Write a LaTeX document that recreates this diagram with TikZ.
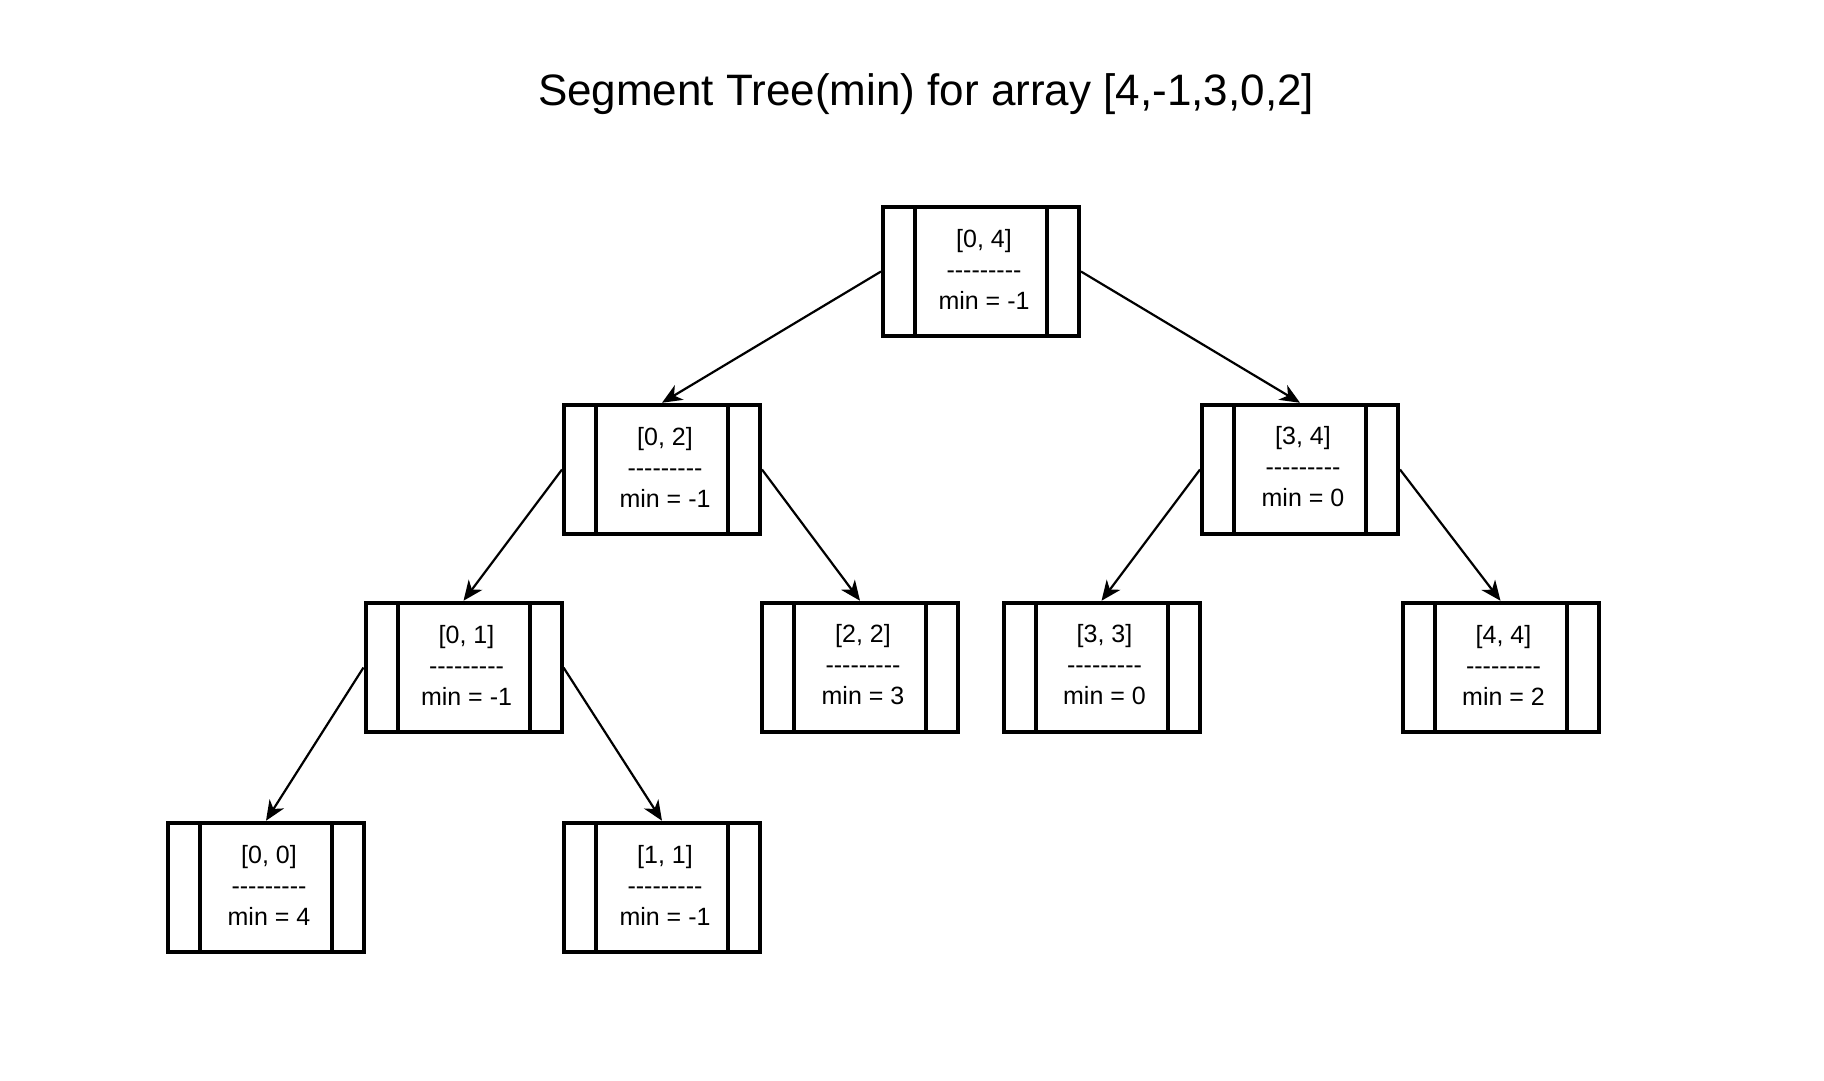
\documentclass[tikz,border=0pt]{standalone}
\usepackage{fontspec}
\setmainfont{Liberation Sans}[Ligatures=TeXOff]
\usetikzlibrary{arrows.meta}
\newcommand{\segdash}{-\kern0pt-\kern0pt-\kern0pt-\kern0pt-\kern0pt-\kern0pt-\kern0pt-\kern0pt-}
\begin{document}
\begin{tikzpicture}[x=1pt,y=-1pt,
  segbox/.style={draw=black, line width=4pt, minimum width=196pt, minimum height=129.5pt, inner sep=0pt,
    path picture={
      \draw[line width=4pt] ([xshift=32pt]path picture bounding box.north west) -- ([xshift=32pt]path picture bounding box.south west);
      \draw[line width=4pt] ([xshift=-32pt]path picture bounding box.north east) -- ([xshift=-32pt]path picture bounding box.south east);
    }},
  segtxt/.style={align=center, inner sep=0pt, font=\fontsize{25}{31}\selectfont},
  edge/.style={line width=2.2pt, -{Stealth[length=20pt, width=17pt, inset=6pt]}},
  titletxt/.style={inner sep=0pt, font=\fontsize{44}{52}\selectfont}]
\useasboundingbox[fill=white] (0,0) rectangle (1824,1080);

\node[titletxt] (title) at (926,94) {Segment Tree(min) for array [4,-1,3,0,2]};

\node[segbox] (r) at (981,271.5) {};
\node[segbox] (a) at (662,469.5) {};
\node[segbox] (b) at (1300,469.5) {};
\node[segbox] (c) at (463.5,667.5) {};
\node[segbox] (d) at (860,667.5) {};
\node[segbox] (e) at (1101.5,667.5) {};
\node[segbox] (f) at (1500.5,667.5) {};
\node[segbox] (g) at (266,887.5) {};
\node[segbox] (h) at (662,887.5) {};

\node[segtxt] (rt) at ([xshift=3pt,yshift=2.5pt]r.center) {[0, 4]\\\segdash\\min = -1};
\node[segtxt] (at) at ([xshift=3pt,yshift=2.5pt]a.center) {[0, 2]\\\segdash\\min = -1};
\node[segtxt] (bt) at ([xshift=3pt,yshift=2.5pt]b.center) {[3, 4]\\\segdash\\min = 0};
\node[segtxt] (ct) at ([xshift=3pt,yshift=2.5pt]c.center) {[0, 1]\\\segdash\\min = -1};
\node[segtxt] (dt) at ([xshift=3pt,yshift=2.5pt]d.center) {[2, 2]\\\segdash\\min = 3};
\node[segtxt] (et) at ([xshift=3pt,yshift=2.5pt]e.center) {[3, 3]\\\segdash\\min = 0};
\node[segtxt] (ft) at ([xshift=3pt,yshift=2.5pt]f.center) {[4, 4]\\\segdash\\min = 2};
\node[segtxt] (gt) at ([xshift=3pt,yshift=2.5pt]g.center) {[0, 0]\\\segdash\\min = 4};
\node[segtxt] (ht) at ([xshift=3pt,yshift=2.5pt]h.center) {[1, 1]\\\segdash\\min = -1};

\draw[edge] (r.west) -- (a.north);
\draw[edge] (r.east) -- (b.north);
\draw[edge] (a.west) -- (c.north);
\draw[edge] (a.east) -- (d.north);
\draw[edge] (b.west) -- (e.north);
\draw[edge] (b.east) -- (f.north);
\draw[edge] (c.west) -- (g.north);
\draw[edge] (c.east) -- (h.north);
\end{tikzpicture}
\end{document}
